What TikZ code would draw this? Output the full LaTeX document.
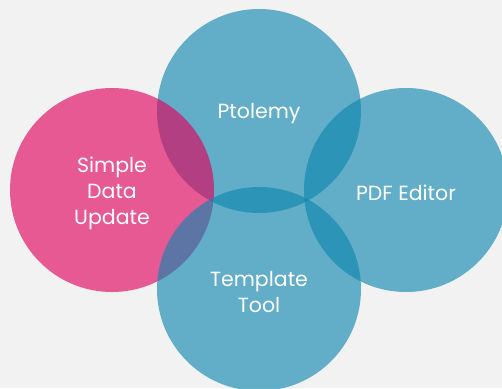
\documentclass[tikz,border=0pt]{standalone}
\usepackage{fontspec}
\setmainfont{Poppins}
\definecolor{venblue}{RGB}{14,134,175}
\definecolor{venpink}{RGB}{226,0,90}
\definecolor{venback}{RGB}{242,242,242}
\newcommand{\lowtext}[1]{\raisebox{-3pt}[\height][\depth]{#1}}
\begin{document}
\begin{tikzpicture}[x=1pt, y=-1pt,
    blob/.style={circle, minimum size=204pt, inner sep=0pt, fill opacity=0.63,
      text opacity=1, text=white, align=center,
      font=\fontsize{20.5}{26}\selectfont}]
  \fill[venback] (0, 0) rectangle (502, 388);
  \useasboundingbox (0, 0) rectangle (502, 388);
  \node[blob, fill=venblue] (ptolemy) at (259, 111) {\lowtext{Ptolemy}};
  \node[blob, fill=venblue] (pdf) at (406, 190) {\lowtext{PDF Editor}};
  \node[blob, fill=venpink] (simple) at (112, 190) {\lowtext{Simple}\\\lowtext{Data}\\\lowtext{Update}};
  \node[blob, fill=venblue] (template) at (259, 289) {\lowtext{Template}\\\lowtext{Tool}};
\end{tikzpicture}
\end{document}
